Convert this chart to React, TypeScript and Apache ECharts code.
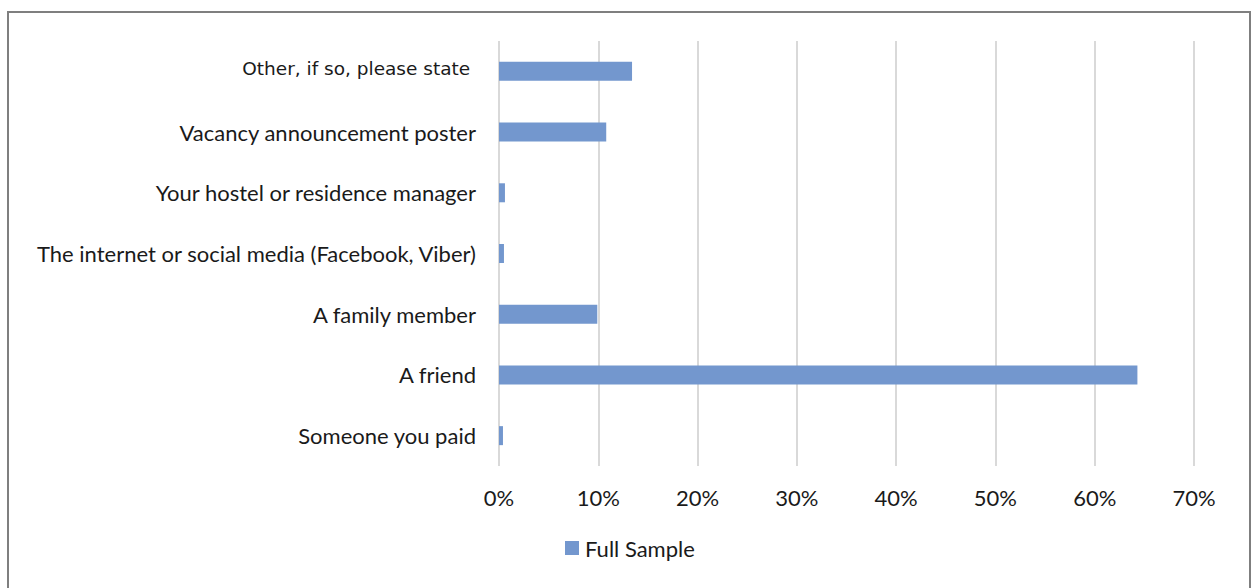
import React, { useEffect, useRef } from "react";
import * as echarts from "echarts";

const categories = [
  "Someone you paid",
  "A friend",
  "A family member",
  "The internet or social media (Facebook, Viber)",
  "Your hostel or residence manager",
  "Vacancy announcement poster",
  "Other, if so, please state ",
];
const fullSample = [0.4, 64.3, 9.9, 0.5, 0.6, 10.8, 13.4];
const seriesName = "Full Sample";

export default function App() {
  const ref = useRef<HTMLDivElement>(null);
  useEffect(() => {
    document.body.style.margin = "0";
    const chart = echarts.init(ref.current!, null, { renderer: "svg" });
    chart.setOption({
      animation: false,
      backgroundColor: "#ffffff",
      textStyle: { fontFamily: "Lato" },
      graphic: [
        {
          type: "rect",
          shape: { x: 8, y: 12, width: 1242, height: 600 },
          style: { fill: "none", stroke: "#7f7f7f", lineWidth: 2 },
          silent: true,
        },
      ],
      grid: { left: 499, right: 59, top: 41, bottom: 122, containLabel: false },
      legend: {
        data: [seriesName],
        left: 560,
        top: 532,
        itemWidth: 14,
        itemHeight: 14,
        icon: "rect",
        textStyle: { fontSize: 22, color: "#1a1a1a", fontFamily: "Lato", padding: [0, 0, 0, 1] },
      },
      xAxis: {
        type: "value",
        min: 0,
        max: 70,
        interval: 10,
        axisLine: { show: false },
        axisTick: { show: false },
        axisLabel: {
          formatter: (v: number) => v + "%",
          fontSize: 22,
          color: "#1a1a1a",
          margin: 20,
          fontFamily: "Lato",
        },
        splitLine: { show: true, lineStyle: { color: "#d9d9d9", width: 2 } },
      },
      yAxis: {
        type: "category",
        data: categories,
        axisLine: { show: false },
        axisTick: { show: false },
        axisLabel: {
          margin: 23,
          fontSize: 22,
          color: "#1a1a1a",
          fontFamily: "Lato",
          formatter: (v: string) => (v.startsWith("Other") ? "{o|" + v + "}" : v),
          rich: {
            o: { fontSize: 18.5, fontFamily: "DejaVu Sans", color: "#1a1a1a", padding: [0, 0, 5, 0] },
          },
        },
      },
      series: [
        {
          name: seriesName,
          type: "bar",
          data: fullSample,
          barWidth: 19,
          itemStyle: { color: "#7397ce" },
        },
      ],
    });
    return () => chart.dispose();
  }, []);
  return <div ref={ref} style={{ width: 1253, height: 588 }} />;
}
